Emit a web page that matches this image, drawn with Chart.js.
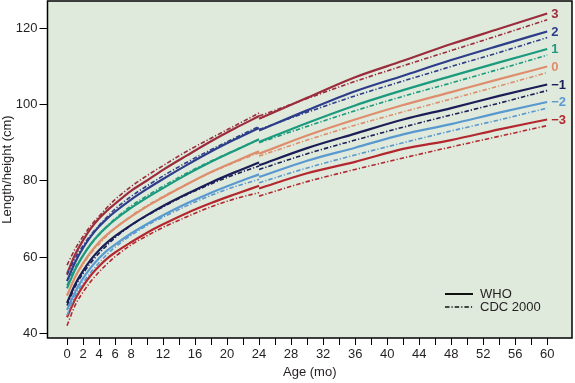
<!DOCTYPE html>
<html>
<head>
<meta charset="utf-8">
<script src="https://cdn.jsdelivr.net/npm/chart.js@4/dist/chart.umd.min.js"></script>
<style>
  html, body { margin: 0; padding: 0; background: #ffffff; }
  #wrap { width: 575px; height: 383px; position: relative; }
</style>
</head>
<body>
<div id="wrap"><canvas id="c" width="575" height="383"></canvas></div>
<script>
// ---------- DATA ----------
const zLabels = ['3', '2', '1', '0', '\u22121', '\u22122', '\u22123'];
const zColors = ['#9b2c3c', '#2e3d8a', '#1c9a7e', '#de8e6d', '#1b1d56', '#5a99cf', '#b3282e'];

// ages (months) for recumbent length (0-24) and standing height (24-60)
const lengthAges = [0, 1, 2, 3, 4, 5, 6, 8, 10, 12, 15, 18, 21, 24];
const heightAges = [24, 30, 36, 42, 48, 54, 60];

// WHO rows in z order 3, 2, 1, 0, -1, -2, -3
const whoLength = [
  [55.6, 60.6, 64.4, 67.6, 70.1, 72.2, 74.0, 77.4, 80.1, 82.9, 86.7, 90.4, 93.8, 97.0],
  [53.7, 58.6, 62.4, 65.5, 68.0, 70.1, 71.9, 75.1, 77.9, 80.5, 84.2, 87.7, 90.9, 93.9],
  [51.8, 56.7, 60.4, 63.5, 66.0, 68.0, 69.8, 72.9, 75.6, 78.1, 81.7, 85.0, 88.0, 90.9],
  [49.9, 54.7, 58.4, 61.4, 63.9, 65.9, 67.6, 70.6, 73.3, 75.7, 79.1, 82.3, 85.1, 87.8],
  [48.0, 52.8, 56.4, 59.4, 61.8, 63.8, 65.5, 68.4, 71.0, 73.4, 76.6, 79.6, 82.3, 84.8],
  [46.1, 50.8, 54.4, 57.3, 59.7, 61.7, 63.3, 66.2, 68.7, 71.0, 74.1, 76.9, 79.4, 81.7],
  [44.2, 48.9, 52.4, 55.3, 57.6, 59.6, 61.2, 63.9, 66.4, 68.6, 71.6, 74.2, 76.5, 78.7]
];
const whoHeight = [
  [96.3, 101.8, 107.2, 111.5, 115.9, 119.9, 123.9],
  [93.2, 98.5, 103.5, 107.6, 111.7, 115.5, 119.2],
  [90.2, 95.2, 99.8, 103.8, 107.5, 111.1, 114.6],
  [87.1, 91.9, 96.1, 99.9, 103.3, 106.7, 110.0],
  [84.1, 88.6, 92.4, 96.1, 99.1, 102.3, 105.3],
  [81.0, 85.3, 88.7, 92.2, 94.9, 97.9, 100.7],
  [78.0, 82.0, 85.0, 88.4, 90.7, 93.5, 96.1]
];
// CDC 2000 rows in z order 3, 2, 1, 0, -1, -2, -3
const cdcLength = [
  [57.9, 62.1, 65.4, 68.3, 70.7, 73.0, 75.1, 78.5, 81.4, 84.0, 87.8, 91.2, 94.5, 97.8],
  [55.3, 59.6, 63.0, 65.9, 68.3, 70.5, 72.6, 75.9, 78.7, 81.3, 84.9, 88.2, 91.3, 94.3],
  [52.6, 57.2, 60.5, 63.4, 65.8, 68.1, 70.1, 73.4, 76.1, 78.6, 82.1, 85.2, 88.1, 90.9],
  [50.0, 54.7, 58.1, 61.0, 63.4, 65.6, 67.6, 70.8, 73.5, 75.9, 79.2, 82.2, 84.9, 87.4],
  [47.3, 52.2, 55.7, 58.6, 61.0, 63.1, 65.1, 68.3, 70.9, 73.2, 76.4, 79.2, 81.7, 83.9],
  [44.7, 49.8, 53.2, 56.1, 58.5, 60.7, 62.6, 65.7, 68.3, 70.5, 73.5, 76.2, 78.5, 80.4],
  [42.0, 47.3, 50.8, 53.7, 56.1, 58.2, 60.1, 63.2, 65.6, 67.8, 70.6, 73.2, 75.3, 76.9]
];
const cdcHeight = [
  [97.0, 101.6, 106.1, 110.2, 114.2, 118.2, 122.3],
  [93.5, 98.0, 102.3, 106.2, 110.0, 113.7, 117.6],
  [90.0, 94.3, 98.4, 102.2, 105.7, 109.3, 113.0],
  [86.5, 90.7, 94.6, 98.1, 101.5, 104.9, 108.4],
  [83.0, 87.1, 90.7, 94.1, 97.3, 100.4, 103.7],
  [79.5, 83.4, 86.8, 90.0, 93.1, 96.0, 99.1],
  [76.0, 79.8, 83.0, 86.0, 88.9, 91.7, 94.5]
];

// axes
const xTickValues = [0,2,4,6,8,10,12,14,16,18,20,22,24,26,28,30,32,34,36,38,40,42,44,46,48,50,52,54,56,58,60];
const xLabelValues = [0,2,4,6,8,12,16,20,24,28,32,36,40,44,48,52,56,60];
const yTickValues = [40, 60, 80, 100, 120];
const legendItems = ['WHO', 'CDC 2000'];

// ---------- CHART ----------
const FONT = "'Liberation Sans', Arial, Helvetica, sans-serif";
const TEXT = '#231f20';
const cdcDash = [4.5, 2, 1.2, 2];

function pts(ages, vals) { return ages.map((a, k) => ({ x: a, y: vals[k] })); }

const datasets = [];
zLabels.forEach((z, i) => {
  const base = { borderColor: zColors[i], pointRadius: 0, fill: false,
                 cubicInterpolationMode: 'monotone' };
  datasets.push(Object.assign({}, base, { label: 'CDC ' + z, data: pts(lengthAges, cdcLength[i]), borderWidth: 1.6, borderDash: cdcDash }));
  datasets.push(Object.assign({}, base, { label: 'CDC ' + z + ' h', data: pts(heightAges, cdcHeight[i]), borderWidth: 1.6, borderDash: cdcDash }));
});
zLabels.forEach((z, i) => {
  const base = { borderColor: zColors[i], pointRadius: 0, fill: false,
                 cubicInterpolationMode: 'monotone' };
  datasets.push(Object.assign({}, base, { label: 'WHO ' + z, data: pts(lengthAges, whoLength[i]), borderWidth: 2.2 }));
  datasets.push(Object.assign({}, base, { label: 'WHO ' + z + ' h', data: pts(heightAges, whoHeight[i]), borderWidth: 2.2 }));
});

const frame = {
  id: 'frame',
  beforeDatasetsDraw(chart) {
    const { ctx, chartArea: a } = chart;
    ctx.save();
    ctx.fillStyle = '#dfeadd';
    ctx.fillRect(a.left, a.top, a.right - a.left, a.bottom - a.top);
    ctx.restore();
  },
  afterDraw(chart) {
    const { ctx, chartArea: a, scales } = chart;
    ctx.save();
    ctx.strokeStyle = '#000';
    ctx.lineWidth = 1.5;
    ctx.strokeRect(a.left, a.top, a.right - a.left, a.bottom - a.top);

    // z-score labels at the end of WHO curves
    ctx.font = 'bold 13px ' + FONT;
    ctx.textAlign = 'left';
    ctx.textBaseline = 'middle';
    const lastX = heightAges[heightAges.length - 1];
    zLabels.forEach((z, i) => {
      const v = whoHeight[i][whoHeight[i].length - 1];
      ctx.fillStyle = zColors[i];
      ctx.fillText(z, scales.x.getPixelForValue(lastX) + 4, scales.y.getPixelForValue(v) + 0.5);
    });

    // legend
    const lx = a.right - 127, ly = a.bottom - 44;
    ctx.strokeStyle = '#111';
    ctx.lineWidth = 2;
    ctx.beginPath(); ctx.moveTo(lx, ly); ctx.lineTo(lx + 28, ly); ctx.stroke();
    ctx.lineWidth = 1.5;
    ctx.setLineDash(cdcDash);
    ctx.beginPath(); ctx.moveTo(lx, ly + 13); ctx.lineTo(lx + 28, ly + 13); ctx.stroke();
    ctx.setLineDash([]);
    ctx.font = '13px ' + FONT;
    ctx.fillStyle = TEXT;
    ctx.fillText(legendItems[0], lx + 35, ly + 0.5);
    ctx.fillText(legendItems[1], lx + 35, ly + 13.5);
    ctx.restore();
  }
};

function noPad(s) { s.paddingTop = 0; s.paddingBottom = 0; s.paddingLeft = 0; s.paddingRight = 0; }

new Chart(document.getElementById('c'), {
  type: 'line',
  data: { datasets },
  plugins: [frame],
  options: {
    responsive: false,
    animation: false,
    events: [],
    layout: { padding: { left: 0, right: 3, top: 1, bottom: 0 } },
    plugins: { legend: { display: false }, tooltip: { enabled: false } },
    scales: {
      x: {
        type: 'linear',
        min: -2.44, max: 63.1,
        afterBuildTicks: s => { s.ticks = xTickValues.map(v => ({ value: v })); },
        afterFit: s => { s.height = 45; noPad(s); },
        ticks: {
          autoSkip: false, maxRotation: 0, padding: 2,
          color: TEXT, font: { family: FONT, size: 13 },
          callback: v => xLabelValues.includes(v) ? String(v) : ''
        },
        grid: { drawOnChartArea: false, drawTicks: true, tickLength: 7, color: '#000', lineWidth: 1 },
        border: { display: false },
        title: { display: true, text: 'Age (mo)', color: TEXT, font: { family: FONT, size: 13 }, padding: { top: 0, bottom: 3 } }
      },
      y: {
        type: 'linear',
        min: 38.77, max: 127.2,
        afterBuildTicks: s => { s.ticks = yTickValues.map(v => ({ value: v })); },
        afterFit: s => { s.width = 47.5; noPad(s); },
        ticks: { padding: 2, color: TEXT, font: { family: FONT, size: 13 } },
        grid: { drawOnChartArea: false, drawTicks: true, tickLength: 8, color: '#000', lineWidth: 1 },
        border: { display: false },
        title: { display: true, text: 'Length/height (cm)', color: TEXT, font: { family: FONT, size: 13 }, padding: { top: 0, bottom: 0 } }
      }
    }
  }
});
</script>
</body>
</html>
